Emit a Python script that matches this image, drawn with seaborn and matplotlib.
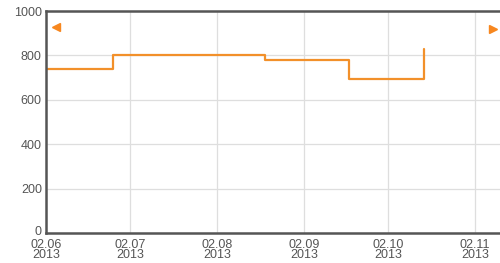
import matplotlib
matplotlib.use("Agg")
import matplotlib.pyplot as plt
import matplotlib.transforms as mtransforms
import seaborn as sns
import pandas as pd

dates = ["2013-06-02", "2013-06-26", "2013-08-19", "2013-09-18", "2013-10-15"]
values = [737, 800, 778, 692, 827]
tick_dates = ["2013-06-02", "2013-07-02", "2013-08-02", "2013-09-02", "2013-10-02", "2013-11-02"]
tick_labels = ["02.06\n2013", "02.07\n2013", "02.08\n2013", "02.09\n2013", "02.10\n2013", "02.11\n2013"]
y_ticks = [0, 200, 400, 600, 800, 1000]

df = pd.DataFrame({"date": pd.to_datetime(dates), "value": values})

sns.set_style("white")
plt.rcParams['font.family'] = ['Liberation Sans', 'DejaVu Sans']

fig = plt.figure(figsize=(5, 2.63), dpi=100)
ax = fig.add_axes([46/500, 1-233/263, 1-46/500, 222/263])

sns.lineplot(data=df, x="date", y="value", ax=ax, drawstyle="steps-post",
             color="#f2902a", linewidth=1.6)

ax.set_xlim(pd.Timestamp("2013-06-02"), pd.Timestamp("2013-11-11"))
ax.set_ylim(0, 1000)
ax.set_xticks(pd.to_datetime(tick_dates))
ax.set_xticklabels(tick_labels)
ax.set_yticks(y_ticks)
ax.set_yticklabels([str(v) for v in y_ticks])
ax.set_xlabel("")
ax.set_ylabel("")
ax.grid(True, color="#dedede", linewidth=0.9)
ax.set_axisbelow(True)
ax.tick_params(axis="y", length=0, labelsize=9, labelcolor="#555555", pad=3)
ax.tick_params(axis="x", length=0, labelsize=9, labelcolor="#555555", pad=4)
for lab in ax.get_xticklabels():
    lab.set_linespacing(0.85)
# nudge the "0" label up slightly so it does not touch the date label
ylabs = ax.get_yticklabels()
ylabs[0].set_transform(ylabs[0].get_transform() + mtransforms.ScaledTranslation(0, 2/72, fig.dpi_scale_trans))

for s in ["left", "top", "bottom"]:
    ax.spines[s].set_color("#555555")
    ax.spines[s].set_linewidth(1.8)
ax.spines["right"].set_visible(False)

# navigator arrows
ax.plot([0.022], [0.93], marker="<", color="#f7871f", markersize=6, transform=ax.transAxes, clip_on=False)
ax.plot([0.985], [0.92], marker=">", color="#f7871f", markersize=6, transform=ax.transAxes, clip_on=False)

fig.savefig("out.png", dpi=100)
